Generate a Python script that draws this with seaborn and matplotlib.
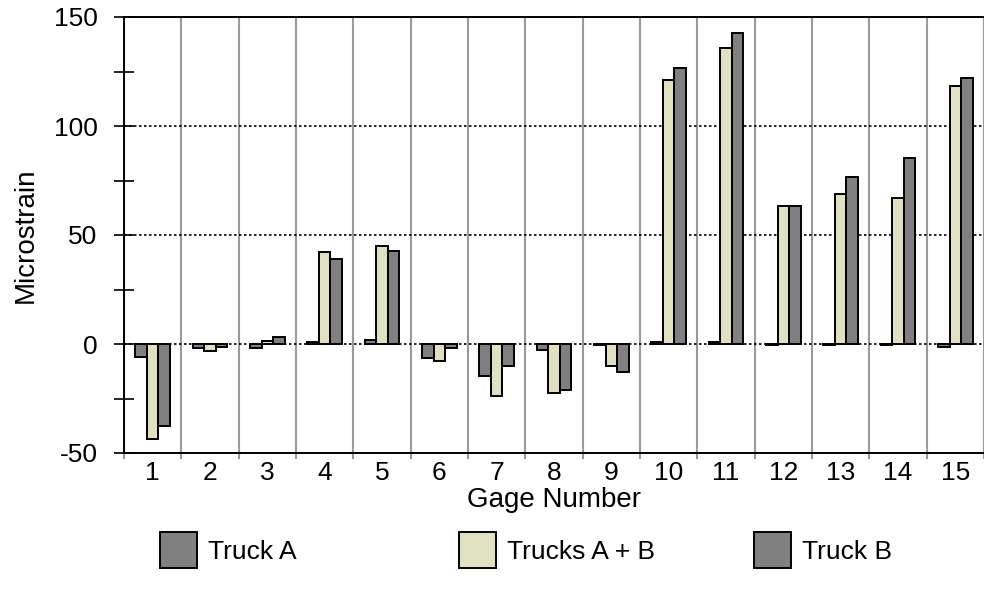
import matplotlib
matplotlib.use("Agg")
import matplotlib.pyplot as plt
from matplotlib.ticker import MultipleLocator
import numpy as np
import pandas as pd
import seaborn as sns

# strain per gage
gages = [str(i) for i in range(1, 16)]
truck_a = [-6, -2, -2, 1, 1.7, -6.5, -14.5, -2.8, -0.6, 1, 1, -0.4, -0.4, -0.4, -1.5]
trucks_ab = [-43.5, -3, 1.5, 42, 45, -8, -24, -22.5, -10, 121, 136, 63.3, 69, 67, 118.3]
truck_b = [-37.5, -1.3, 3, 39, 42.7, -2, -10, -21, -13, 126.5, 142.5, 63.3, 76.5, 85.5, 122]
series = ["Truck A", "Trucks A + B", "Truck B"]
colors = ["#808080", "#E0E0C2", "#808080"]

df = pd.DataFrame({
    "gage": gages * 3,
    "series": np.repeat(series, len(gages)),
    "value": truck_a + trucks_ab + truck_b,
})

sns.set_theme(style="white")
plt.rcParams["font.family"] = ["Liberation Sans", "DejaVu Sans"]
plt.rcParams["axes.unicode_minus"] = False
plt.rcParams["text.color"] = "black"
plt.rcParams["axes.labelcolor"] = "black"
plt.rcParams["xtick.labelcolor"] = "black"
plt.rcParams["ytick.labelcolor"] = "black"
FS = 19

fig = plt.figure(figsize=(9.84, 6), dpi=100)
ax = fig.add_axes([124 / 984, 147 / 600, (984 - 124) / 984, 436 / 600])

sns.barplot(data=df, x="gage", y="value", hue="series", hue_order=series,
            palette=dict(zip(series, colors)), width=0.6, edgecolor="black",
            linewidth=1.4, saturation=1, ax=ax)

handles, labels = ax.get_legend_handles_labels()
ax.get_legend().remove()

ax.set_xlim(-0.5, 14.31)
ax.set_ylim(-50, 150)
ax.set_axisbelow(True)

# y axis
ax.yaxis.set_major_locator(MultipleLocator(50))
ax.yaxis.set_minor_locator(MultipleLocator(25))
ax.tick_params(axis="y", which="both", direction="inout", length=14, width=1.2,
               color="black", labelsize=FS, left=True, pad=12)
ax.yaxis.grid(True, which="major", color="black", linestyle=(0, (1.5, 1.5)), lw=1.2)

# x axis: gray separators between gages
ax.set_xticks(np.arange(-0.5, 15, 1), minor=True)
ax.xaxis.grid(True, which="minor", color="#999999", lw=1.5)
ax.xaxis.grid(False, which="major")
ax.tick_params(axis="x", which="minor", direction="out", length=4, width=1.5,
               color="#999999", bottom=True)
ax.tick_params(axis="x", which="major", length=0, labelsize=FS, pad=6)

for s in ["left", "bottom", "top"]:
    ax.spines[s].set_color("black")
    ax.spines[s].set_linewidth(1.4)
ax.spines["right"].set_visible(False)

ax.set_xlabel("Gage Number", fontsize=20, labelpad=1)
ax.set_ylabel("Microstrain", fontsize=20, labelpad=11)

# legend row below the chart, one entry at a time
for h, lab, x in zip(handles, labels, [160, 459, 754]):
    fig.legend([h], [lab], loc="center left", bbox_to_anchor=(x / 984, 1 - 550 / 600),
               frameon=False, fontsize=FS, handlelength=1.4, handleheight=1.7,
               handletextpad=0.42, borderpad=0, borderaxespad=0)

fig.savefig("out.png", dpi=100)
